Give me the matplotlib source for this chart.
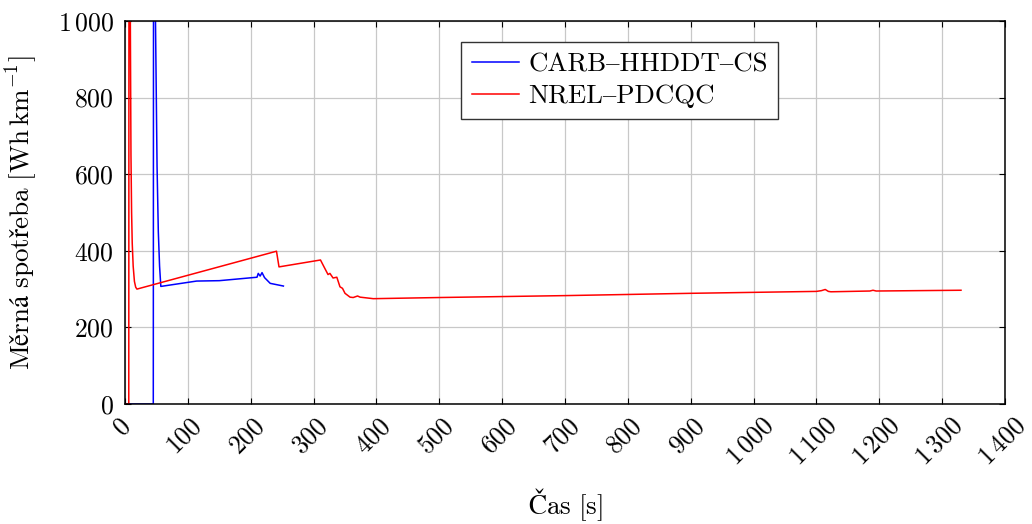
import matplotlib
matplotlib.use("Agg")
import matplotlib.pyplot as plt
from matplotlib.ticker import FixedLocator, FuncFormatter
from matplotlib.transforms import ScaledTranslation

plt.rcParams['font.family'] = ['cmr10', 'STIXGeneral', 'DejaVu Serif']
plt.rcParams['mathtext.fontset'] = 'cm'
plt.rcParams['axes.unicode_minus'] = False

# CARB-HHDDT-CS series (time [s], specific consumption [Wh/km])
blue_t = [0, 45, 45.5, 48.5, 51, 53, 55, 57, 114, 150, 210, 212, 215, 218, 222, 231, 252]
blue_v = [0, 0, 1500, 1000, 620, 450, 360, 307, 321, 322, 331, 341, 334, 343, 330, 315, 308]

# NREL-PDCQC series
red_t = [0, 6, 6.5, 8.5, 9.5, 10.5, 11.5, 13, 15, 17, 19, 239, 241, 245, 311, 316, 323, 326, 331,
         337, 342, 346, 350, 358, 363, 370, 374, 395, 500, 700, 900, 1100, 1108, 1114, 1119,
         1123, 1185, 1190, 1195, 1330]
red_v = [0, 0, 2000, 1000, 650, 500, 420, 360, 320, 305, 300, 398, 399, 358, 376, 360, 338, 341, 329,
         331, 306, 302, 289, 279, 278, 282, 279, 275, 278, 283, 289, 294, 296, 299, 294,
         293, 295, 297, 295, 297]

labels = ["CARB\u2013HHDDT\u2013CS", "NREL\u2013PDCQC"]
x_ticks = list(range(0, 1401, 100))
y_ticks = list(range(0, 1001, 200))

fig = plt.figure(figsize=(10.32, 5.24), dpi=100)
ax = fig.add_axes([125/1032, 1-404/524, 880/1032, 383/524])

ax.plot(blue_t, blue_v, color='#0000ff', lw=1.1, label=labels[0])
ax.plot(red_t, red_v, color='#ff0000', lw=1.1, label=labels[1])

ax.set_xlim(0, 1400)
ax.set_ylim(0, 1000)

def fmt(v, pos):
    v = int(round(v))
    if v >= 1000:
        return r"$%d\,%03d$" % (v // 1000, v % 1000)
    return r"$%d$" % v

ax.xaxis.set_major_locator(FixedLocator(x_ticks))
ax.yaxis.set_major_locator(FixedLocator(y_ticks))
ax.xaxis.set_major_formatter(FuncFormatter(fmt))
ax.yaxis.set_major_formatter(FuncFormatter(fmt))

ax.grid(True, color='#c8c8c8', lw=0.9)
ax.set_axisbelow(True)
ax.tick_params(direction='in', length=4, width=0.8, top=True, right=True, labelsize=18.5)
ax.tick_params(axis='x', pad=7)
ax.tick_params(axis='y', pad=8)
shift = ScaledTranslation(-3/100, 0, fig.dpi_scale_trans)
for lab in ax.get_xticklabels():
    lab.set_rotation(45)
    lab.set_ha('center')
    lab.set_va('top')
    lab.set_transform(lab.get_transform() + shift)
for s in ax.spines.values():
    s.set_linewidth(1.1)
    s.set_color('black')

ax.set_xlabel(r"$\mathrm{Čas\ [s]}$", fontsize=19.5)
ax.set_ylabel(r"$\mathrm{Měrná\ spotřeba\ [Wh\,km^{-1}]}$", fontsize=19.5)
ax.xaxis.label.set_va('center')
ax.yaxis.label.set_va('center')
ax.xaxis.set_label_coords(0.5, -(505-404)/383)
ax.yaxis.set_label_coords(-(125-22)/880, 0.5)

leg = ax.legend(loc='upper left', bbox_to_anchor=((461-125)/880, (404-42)/383),
                fontsize=19.3, frameon=True, fancybox=False, framealpha=1,
                edgecolor='#333333', handlelength=1.75, handletextpad=0.35,
                borderaxespad=0, borderpad=0.4, labelspacing=0.3)
leg.get_frame().set_linewidth(1.0)

fig.savefig("out.png", dpi=100)
